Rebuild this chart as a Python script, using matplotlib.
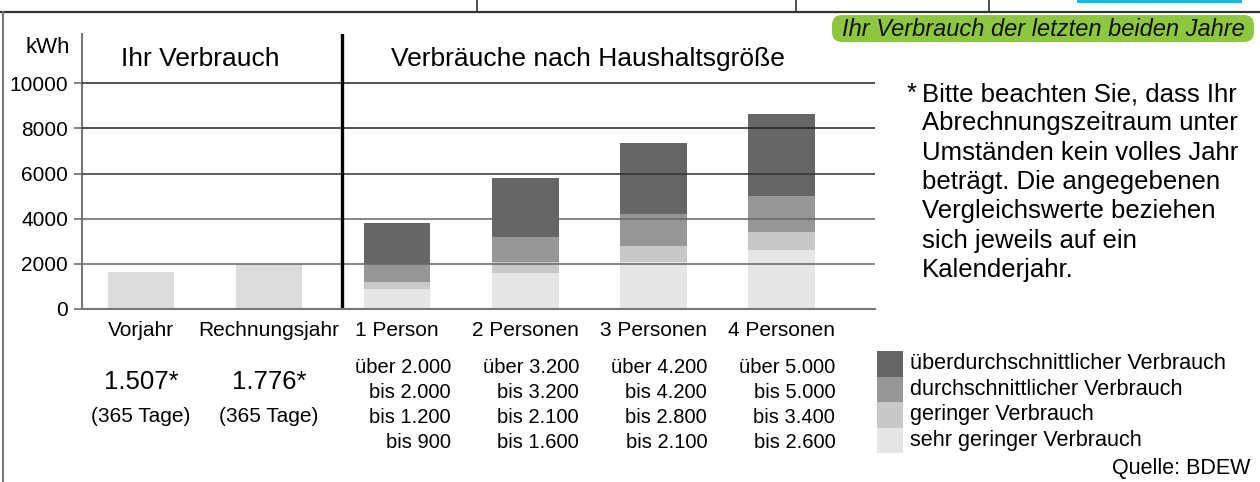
import matplotlib.pyplot as plt
from matplotlib.patches import Rectangle, FancyBboxPatch
from matplotlib.lines import Line2D
from matplotlib.transforms import blended_transform_factory

plt.rcParams['font.family'] = ['Liberation Sans', 'DejaVu Sans']

# Data
categories = ['Vorjahr', 'Rechnungsjahr', '1 Person', '2 Personen', '3 Personen', '4 Personen']
own_values = [1650, 1980]            # Ihr Verbrauch (bar heights)
own_labels = ['1.507*', '1.776*']
own_days = ['(365 Tage)', '(365 Tage)']

# upper bounds of each consumption class per household size
sehr_gering_bis = [900, 1600, 2100, 2600]
gering_bis = [1200, 2100, 2800, 3400]
durchschnitt_bis = [2000, 3200, 4200, 5000]
ueber_top = [3800, 5800, 7350, 8650]

range_labels = [
    ['über 2.000', 'bis 2.000', 'bis 1.200', 'bis 900'],
    ['über 3.200', 'bis 3.200', 'bis 2.100', 'bis 1.600'],
    ['über 4.200', 'bis 4.200', 'bis 2.800', 'bis 2.100'],
    ['über 5.000', 'bis 5.000', 'bis 3.400', 'bis 2.600'],
]
legend_labels = ['überdurchschnittlicher Verbrauch', 'durchschnittlicher Verbrauch',
                 'geringer Verbrauch', 'sehr geringer Verbrauch']
colors = ['#666666', '#969696', '#c8c8c8', '#e6e6e6']
own_color = '#dcdcdc'

yticks = [0, 2000, 4000, 6000, 8000, 10000]

W, H = 1260, 482
fig = plt.figure(figsize=(W / 100, H / 100), dpi=100)


def fx(x):
    return x / W


def fy(y):
    return 1 - y / H


# axes placed in pixel terms of the reference
ax = fig.add_axes([fx(82), fy(309), fx(875) - fx(82), fy(34) - fy(309)])
ax.set_xlim(-0.46, 5.73)
ax.set_ylim(0, 12180)

x_own = [0, 1]
x_hh = [2, 3, 4, 5]
bw = 0.52

ax.bar(x_own, own_values, width=bw, color=own_color, zorder=1)

bottoms = [0, 0, 0, 0]
tops = [sehr_gering_bis, gering_bis, durchschnitt_bis, ueber_top]
for i, t in enumerate(tops):
    heights = [a - b for a, b in zip(t, bottoms)]
    ax.bar(x_hh, heights, bottom=bottoms, width=bw, color=colors[3 - i], zorder=1)
    bottoms = t

# grid lines drawn on top of the bars
grid_cols = {2000: '#666666', 4000: '#666666', 6000: '#333333', 8000: '#222222', 10000: '#222222'}
for v in yticks[1:]:
    ax.axhline(v, color=grid_cols[v], lw=1.1, zorder=3)

ax.axvline(1.57, color='black', lw=2.4, zorder=4)

for s in ['top', 'right']:
    ax.spines[s].set_visible(False)
ax.spines['left'].set_color('#777777')
ax.spines['left'].set_linewidth(1.5)
ax.spines['bottom'].set_color('#777777')
ax.spines['bottom'].set_linewidth(1.5)
ax.spines['bottom'].set_zorder(5)

ax.set_yticks(yticks)
ax.set_yticklabels([str(v) for v in yticks], fontsize=15)
ax.tick_params(axis='y', length=6, width=1.3, color='#777777', pad=4)
ax.set_xticks(range(len(categories)))
ax.set_xticklabels(categories, fontsize=15)
ax.tick_params(axis='x', length=0, pad=9)

# headings
fig.text(fx(70), fy(53), 'kWh', fontsize=16, ha='right', va='baseline')
fig.text(fx(200), fy(66), 'Ihr Verbrauch', fontsize=19, ha='center', va='baseline')
fig.text(fx(588), fy(66), 'Verbräuche nach Haushaltsgröße', fontsize=19, ha='center', va='baseline')

# values below own bars and range table below household bars
tr = blended_transform_factory(ax.transData, fig.transFigure)
for xi, lab, d in zip(x_own, own_labels, own_days):
    ax.text(xi, fy(389), lab, transform=tr, fontsize=18.5, ha='center', va='baseline')
    ax.text(xi, fy(422), d, transform=tr, fontsize=15, ha='center', va='baseline')

row_base = [373, 398, 423, 448]
for xi, labs in zip(x_hh, range_labels):
    for yb, lab in zip(row_base, labs):
        ax.text(xi + 0.42, fy(yb), lab, transform=tr, fontsize=14.5, ha='right', va='baseline')

# legend
for k, (c, lab) in enumerate(zip(colors, legend_labels)):
    y0 = 351 + k * 25.5
    fig.add_artist(Rectangle((fx(877), fy(y0 + 25.5)), fx(903) - fx(877), fy(y0) - fy(y0 + 25.5),
                             transform=fig.transFigure, color=c, lw=0))
    fig.text(fx(910), fy(y0 + 12.75), lab, fontsize=15.6, ha='left', va='center')

fig.text(fx(1250), fy(474), 'Quelle: BDEW', fontsize=15.5, ha='right', va='baseline')

# footnote
fig.text(fx(907), fy(82), '*', fontsize=18.5, ha='left', va='top')
fig.text(fx(922), fy(82),
         'Bitte beachten Sie, dass Ihr\nAbrechnungszeitraum unter\nUmständen kein volles Jahr\n'
         'beträgt. Die angegebenen\nVergleichswerte beziehen\nsich jeweils auf ein\nKalenderjahr.',
         fontsize=18.5, ha='left', va='top', linespacing=1.28)

# green tag
fig.add_artist(FancyBboxPatch((fx(832), fy(42)), fx(1254) - fx(832), fy(15) - fy(42),
                              boxstyle='round,pad=0,rounding_size=0.008',
                              transform=fig.transFigure, color='#8dc63f', lw=0,
                              mutation_aspect=W / H))
fig.text(fx(1043), fy(29), 'Ihr Verbrauch der letzten beiden Jahre', fontsize=17,
         style='italic', ha='center', va='center', color='#111111')

# frame pieces from the surrounding page
fig.add_artist(Line2D([0, 1], [fy(12), fy(12)], transform=fig.transFigure, color='#333333', lw=1.6))
fig.add_artist(Line2D([fx(3), fx(3)], [0, fy(12)], transform=fig.transFigure, color='#777777', lw=1.5))
for xv in [477, 796, 989]:
    fig.add_artist(Line2D([fx(xv), fx(xv)], [fy(12), 1], transform=fig.transFigure, color='#333333', lw=1.2))
fig.add_artist(Rectangle((fx(1077), fy(3)), fx(1242) - fx(1077), fy(0) - fy(3),
                         transform=fig.transFigure, color='#1eb4eb', lw=0))

fig.savefig('out.png', dpi=100)
